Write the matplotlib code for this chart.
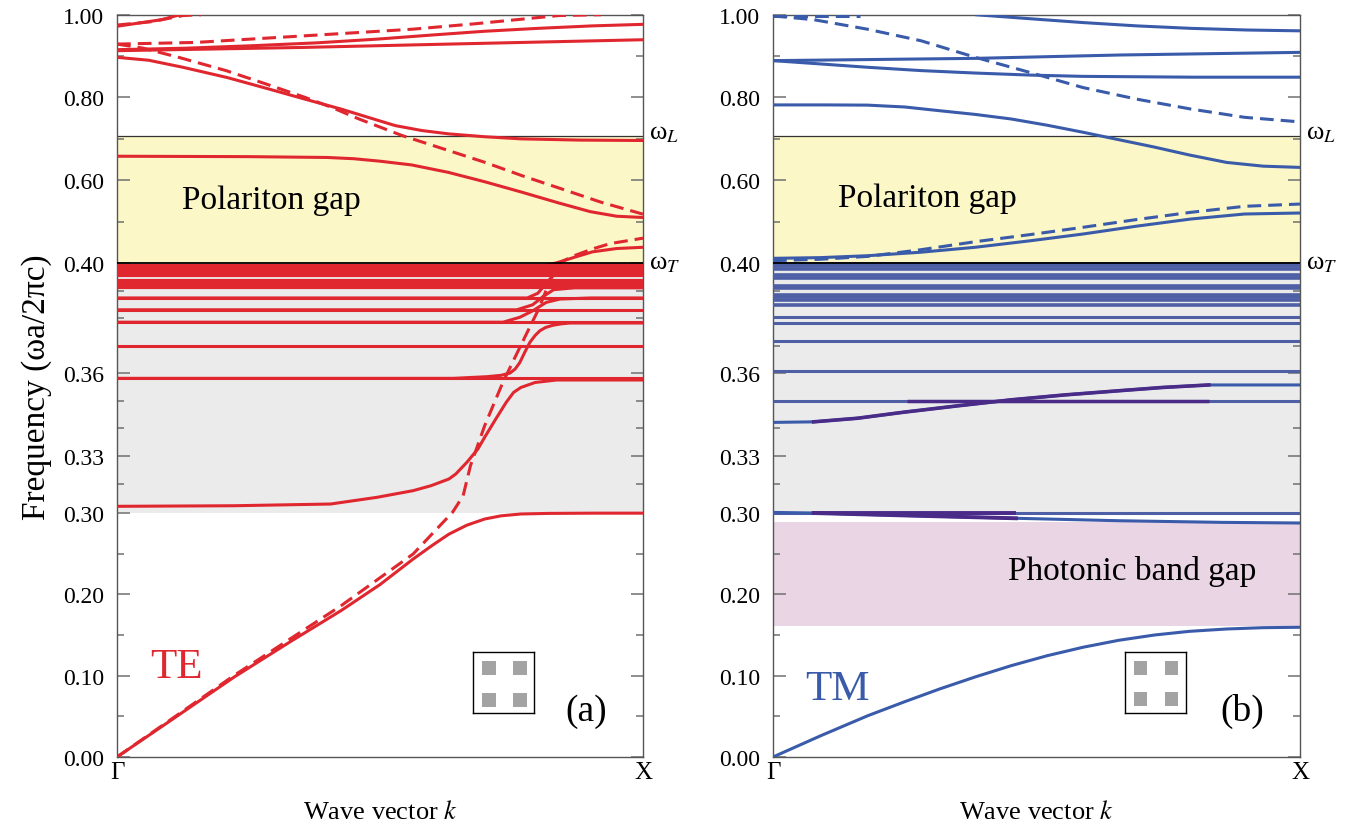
import numpy as np
import matplotlib.pyplot as plt
from matplotlib.patches import Rectangle
from matplotlib.ticker import NullFormatter

plt.rcParams['font.family'] = ['Liberation Serif', 'DejaVu Serif']
plt.rcParams['mathtext.fontset'] = 'stix'

RED = '#E0272F'
BLUE = '#3A5BAA'
BLUE_FLAT = '#4E5FA6'
PURPLE = '#4A2C88'
GRAY_BG = '#EBEBEB'
YELLOW = '#FCF7C6'
PINK = '#EAD5E5'

y_knots = [-1.0, 0.0, 0.30, 0.33, 0.40, 1.00, 2.0]
pos_knots = [-813.3, 0.0, 244.0, 301.3, 494.0, 742.3, 1156.0]

major_ticks = [0.0, 0.1, 0.2, 0.3, 0.33, 0.36, 0.40, 0.60, 0.80, 1.00]
minor_ticks = [0.05, 0.15, 0.25, 0.315, 0.34, 0.35, 0.37, 0.38, 0.39, 0.50, 0.70, 0.90]

omega_T = 0.40
omega_L = 0.707
pbg_lo, pbg_hi = 0.161, 0.289

# ---------------- (a) TE ----------------
te_low_k = [0, 0.1, 0.222, 0.33, 0.426, 0.50, 0.563, 0.60, 0.631, 0.665, 0.699, 0.73, 0.768, 0.82, 0.904, 1.0]
te_low_w = [0, 0.044, 0.098, 0.142, 0.180, 0.212, 0.2434, 0.2605, 0.274, 0.285, 0.2926, 0.2965, 0.2988, 0.2995, 0.2998, 0.2998]

te_b2_k = [0, 0.222, 0.406, 0.494, 0.563, 0.597, 0.631, 0.644, 0.665, 0.686, 0.699, 0.72, 0.74, 0.754, 0.768, 0.795, 0.836, 1.0]
te_b2_w = [0.3035, 0.3038, 0.3047, 0.3082, 0.3117, 0.3143, 0.3178, 0.3204, 0.3265, 0.3324, 0.3367, 0.3433, 0.3494, 0.353, 0.3548, 0.3566, 0.3575, 0.3575]

te_b3_k = [0, 0.64, 0.703, 0.73, 0.747, 0.757, 0.766, 0.775, 0.785, 0.795, 0.804, 0.815, 0.829, 0.845, 0.861, 1.0]
te_b3_w = [0.3581, 0.3581, 0.3587, 0.3592, 0.360, 0.3615, 0.3639, 0.3675, 0.3712, 0.3737, 0.3754, 0.3766, 0.3774, 0.3779, 0.3782, 0.3782]

te_b4_k = [0, 0.734, 0.766, 0.791, 0.816, 0.842, 0.90, 1.0]
te_b4_w = [0.3785, 0.3785, 0.3803, 0.3827, 0.3857, 0.3869, 0.3873, 0.3873]

te_b5_k = [0, 0.76, 0.79, 0.81, 0.83, 0.87, 1.0]
te_b5_w = [0.383, 0.383, 0.3848, 0.3878, 0.3903, 0.391, 0.391]

te_b6_k = [0, 0.78, 0.80, 0.82, 0.84, 0.86, 1.0]
te_b6_w = [0.3873, 0.3873, 0.389, 0.3935, 0.3975, 0.3993, 0.3993]

te_flat = [0.3581, 0.3700, 0.3785, 0.3830, 0.3873]
te_dense = [0.3912, 0.3924, 0.3936, 0.3955, 0.3966, 0.3977, 0.3988]

te_wt_k = [0.80, 0.836, 0.87, 0.904, 0.95, 1.0]
te_wt_w = [0.3985, 0.4005, 0.414, 0.427, 0.435, 0.438]

te_gap_k = [0, 0.25, 0.40, 0.45, 0.50, 0.56, 0.63, 0.70, 0.77, 0.84, 0.90, 0.95, 1.0]
te_gap_w = [0.658, 0.657, 0.655, 0.652, 0.646, 0.637, 0.619, 0.596, 0.571, 0.545, 0.524, 0.513, 0.510]

te_wl_k = [0, 0.06, 0.125, 0.21, 0.29, 0.36, 0.426, 0.48, 0.529, 0.58, 0.631, 0.70, 0.768, 0.88, 1.0]
te_wl_w = [0.897, 0.890, 0.873, 0.848, 0.820, 0.795, 0.772, 0.751, 0.732, 0.720, 0.712, 0.705, 0.700, 0.697, 0.696]

te_top1_k = [0, 0.13, 0.256, 0.38, 0.495, 0.60, 0.699, 0.80, 0.904, 1.0]
te_top1_w = [0.9155, 0.919, 0.925, 0.932, 0.941, 0.951, 0.960, 0.967, 0.973, 0.9767]
te_top2_k = [0, 0.357, 0.631, 1.0]
te_top2_w = [0.913, 0.921, 0.929, 0.9395]
te_top3_k = [0, 0.085, 0.114, 0.13]
te_top3_w = [0.972, 0.988, 0.998, 1.0]

# dashed (TE)
te_dpol_k = [0, 0.222, 0.426, 0.563, 0.638, 0.658, 0.672, 0.699, 0.7335, 0.7675, 0.8017, 0.8357, 0.87, 0.904, 0.938, 1.0]
te_dpol_w = [0, 0.100, 0.186, 0.2496, 0.3004, 0.309, 0.3248, 0.3409, 0.3566, 0.370, 0.3833, 0.3996, 0.418, 0.434, 0.447, 0.46]
te_ddown_k = [0, 0.05, 0.12, 0.207, 0.28, 0.358, 0.41, 0.46, 0.542, 0.62, 0.70, 0.77, 0.836, 0.92, 1.0]
te_ddown_w = [0.929, 0.919, 0.896, 0.865, 0.834, 0.800, 0.775, 0.748, 0.708, 0.676, 0.643, 0.611, 0.583, 0.547, 0.518]
te_dup_k = [0, 0.15, 0.357, 0.562, 0.68, 0.768, 0.84, 0.92]
te_dup_w = [0.929, 0.933, 0.949, 0.965, 0.978, 0.989, 0.998, 1.0]
te_dtl_k = [0, 0.065, 0.126, 0.16]
te_dtl_w = [0.975, 0.983, 0.998, 1.0]

# ---------------- (b) TM ----------------
tm_b1_k = [0, 0.09, 0.18, 0.25, 0.316, 0.384, 0.452, 0.52, 0.588, 0.656, 0.724, 0.79, 0.861, 0.93, 1.0]
tm_b1_w = [0, 0.026, 0.0508, 0.068, 0.0836, 0.0985, 0.1123, 0.1245, 0.1349, 0.1435, 0.150, 0.1545, 0.1574, 0.159, 0.1595]

tm_b2_k = [0, 0.077, 0.25, 0.461, 0.657, 0.85, 1.0]
tm_b2_w = [0.3003, 0.300, 0.297, 0.2935, 0.2905, 0.2885, 0.2877]
tm_b2_purple = (0.077, 0.461)

tm_rise_k = [0, 0.077, 0.16, 0.248, 0.35, 0.452, 0.555, 0.657, 0.74, 0.827, 1.0]
tm_rise_w = [0.3421, 0.3423, 0.3436, 0.3458, 0.3481, 0.3503, 0.3521, 0.3536, 0.3548, 0.3557, 0.3557]
tm_rise_purple = (0.077, 0.827)

tm_flat = [0.3000, 0.3500, 0.3609, 0.3718, 0.3782, 0.3803]
tm_flat_purple = [(0.3500, 0.254, 0.827)]
tm_dense = [0.3848, 0.3865, 0.3875, 0.3885, 0.3908, 0.3918, 0.3945, 0.3955, 0.3978, 0.3988, 0.3998]

tm_gap_k = [0, 0.09, 0.1797, 0.28, 0.384, 0.49, 0.588, 0.69, 0.793, 0.895, 1.0]
tm_gap_w = [0.4113, 0.413, 0.4176, 0.426, 0.438, 0.454, 0.470, 0.489, 0.5063, 0.5184, 0.5208]
tm_dgap_k = [0, 0.09, 0.1797, 0.28, 0.384, 0.49, 0.588, 0.69, 0.793, 0.895, 1.0]
tm_dgap_w = [0.4056, 0.409, 0.416, 0.432, 0.4515, 0.469, 0.4862, 0.505, 0.5225, 0.537, 0.5425]

tm_wl_k = [0, 0.10, 0.179, 0.25, 0.316, 0.384, 0.452, 0.52, 0.588, 0.656, 0.724, 0.79, 0.861, 0.93, 1.0]
tm_wl_w = [0.782, 0.782, 0.7815, 0.777, 0.768, 0.759, 0.748, 0.733, 0.716, 0.698, 0.680, 0.661, 0.643, 0.634, 0.631]
tm_mid1_k = [0, 0.09, 0.179, 0.28, 0.384, 0.49, 0.588, 0.8, 1.0]
tm_mid1_w = [0.889, 0.881, 0.873, 0.865, 0.859, 0.854, 0.851, 0.849, 0.849]
tm_mid2_k = [0, 0.384, 0.657, 1.0]
tm_mid2_w = [0.889, 0.8945, 0.9026, 0.909]
tm_top_k = [0.384, 0.48, 0.588, 0.69, 0.793, 0.90, 1.0]
tm_top_w = [1.0, 0.991, 0.981, 0.973, 0.967, 0.963, 0.961]

tm_ddown_k = [0, 0.077, 0.179, 0.281, 0.384, 0.486, 0.588, 0.690, 0.793, 0.895, 1.0]
tm_ddown_w = [0.997, 0.988, 0.965, 0.937, 0.897, 0.861, 0.824, 0.796, 0.772, 0.752, 0.741]
tm_dtop_k = [0, 0.166]
tm_dtop_w = [0.998, 0.998]


def fwd(v):
    return np.interp(v, y_knots, pos_knots)


def inv(p):
    return np.interp(p, pos_knots, y_knots)


DASH = (0, (4.5, 2.3))
LW = 2.2


def setup(ax):
    ax.set_xlim(0, 1)
    ax.set_yscale('function', functions=(fwd, inv))
    ax.set_ylim(0, 1)
    ax.set_yticks(major_ticks)
    ax.set_yticklabels(['%.2f' % t for t in major_ticks])
    ax.set_yticks(minor_ticks, minor=True)
    ax.yaxis.set_minor_formatter(NullFormatter())
    ax.tick_params(axis='y', which='both', direction='in', left=True, right=True,
                   color='#707070', width=1.1, labelsize=17, pad=9)
    ax.tick_params(axis='y', which='major', length=9)
    ax.tick_params(axis='y', which='minor', length=5)
    ax.set_xticks([0, 1])
    ax.set_xticklabels(['Γ', 'X'])
    ax.tick_params(axis='x', length=0, labelsize=18, pad=3)
    for s in ax.spines.values():
        s.set_color('#555555')
        s.set_linewidth(1.0)
    ax.set_xlabel('Wave vector $k$', fontsize=19, labelpad=12)
    # background regions
    ax.axhspan(0.30, omega_T, color=GRAY_BG, lw=0, zorder=0)
    ax.axhspan(omega_T, omega_L, color=YELLOW, lw=0, zorder=0)
    ax.axhline(omega_L, color='#333333', lw=0.9, zorder=1)
    ax.axhline(omega_T, color='black', lw=1.3, zorder=4)
    tr = ax.get_yaxis_transform()
    ax.text(1.012, omega_L + 0.006, 'ω$_L$', transform=tr, fontsize=19, va='center', ha='left')
    ax.text(1.012, omega_T + 0.001, 'ω$_T$', transform=tr, fontsize=19, va='center', ha='left')


def lattice_icon(fig, rect):
    ia = fig.add_axes(rect)
    ia.set_xlim(0, 1)
    ia.set_ylim(0, 1)
    ia.set_xticks([])
    ia.set_yticks([])
    for s in ia.spines.values():
        s.set_linewidth(1.0)
        s.set_color('black')
    for x0 in (0.15, 0.66):
        for y0 in (0.10, 0.62):
            ia.add_patch(Rectangle((x0, y0), 0.22, 0.23, color='#A3A3A3', lw=0))


fig = plt.figure(figsize=(13.51, 8.29), dpi=100)
W, H = 1351.0, 829.0
ax1 = fig.add_axes([117 / W, 1 - 758 / H, 526 / W, 742.3 / H])
ax2 = fig.add_axes([773 / W, 1 - 758 / H, 527 / W, 742.3 / H])
setup(ax1)
setup(ax2)
ax1.set_ylabel('Frequency (ωa/2πc)', fontsize=24, labelpad=8)

# ---- panel (a)
kw = dict(color=RED, lw=LW, zorder=3, solid_capstyle='butt')
ax1.hlines(te_flat, 0, 1, colors=RED, lw=LW, zorder=3)
ax1.hlines(te_dense, 0, 1, colors=RED, lw=3.0, zorder=3)
for k, w in [(te_low_k, te_low_w), (te_b2_k, te_b2_w), (te_b3_k, te_b3_w),
             (te_b4_k, te_b4_w), (te_b5_k, te_b5_w), (te_b6_k, te_b6_w),
             (te_wt_k, te_wt_w), (te_gap_k, te_gap_w), (te_wl_k, te_wl_w),
             (te_top1_k, te_top1_w), (te_top2_k, te_top2_w), (te_top3_k, te_top3_w)]:
    ax1.plot(k, w, **kw)
for k, w in [(te_dpol_k, te_dpol_w), (te_ddown_k, te_ddown_w),
             (te_dup_k, te_dup_w), (te_dtl_k, te_dtl_w)]:
    ax1.plot(k, w, ls=DASH, **kw)

ax1.text(0.124, 0.552, 'Polariton gap', fontsize=24, va='center', ha='left')
ax1.text(0.063, 0.111, 'TE', fontsize=31, color=RED, va='center', ha='left')
ax1.text(0.852, 0.057, '(a)', fontsize=27, va='center', ha='left')

# ---- panel (b)
ax2.axhspan(pbg_lo, pbg_hi, color=PINK, lw=0, zorder=0)
kb = dict(color=BLUE, lw=LW, zorder=3, solid_capstyle='butt')
ax2.hlines(tm_flat, 0, 1, colors=BLUE_FLAT, lw=LW, zorder=3)
ax2.hlines(tm_dense, 0, 1, colors=BLUE_FLAT, lw=2.6, zorder=3)
for lev, k0, k1 in tm_flat_purple:
    ax2.hlines(lev, k0, k1, colors=PURPLE, lw=LW + 0.3, zorder=3.5)
for k, w in [(tm_b1_k, tm_b1_w), (tm_b2_k, tm_b2_w), (tm_rise_k, tm_rise_w),
             (tm_gap_k, tm_gap_w), (tm_wl_k, tm_wl_w), (tm_mid1_k, tm_mid1_w),
             (tm_mid2_k, tm_mid2_w), (tm_top_k, tm_top_w)]:
    ax2.plot(k, w, **kb)
for k, w in [(tm_dgap_k, tm_dgap_w), (tm_ddown_k, tm_ddown_w), (tm_dtop_k, tm_dtop_w)]:
    ax2.plot(k, w, ls=DASH, **kb)

# purple pieces where the bands mix
rk = np.array(tm_rise_k)
sel = (rk >= tm_rise_purple[0]) & (rk <= tm_rise_purple[1])
ax2.plot(rk[sel], np.array(tm_rise_w)[sel], color=PURPLE, lw=LW + 0.4, zorder=3.6)
bk = np.array(tm_b2_k)
sel = (bk >= tm_b2_purple[0]) & (bk <= tm_b2_purple[1])
ax2.plot(bk[sel], np.array(tm_b2_w)[sel], color=PURPLE, lw=LW + 0.6, zorder=3.6)
ax2.hlines(0.3000, tm_b2_purple[0], tm_b2_purple[1], colors=PURPLE, lw=LW + 0.6, zorder=3.6)

ax2.text(0.123, 0.557, 'Polariton gap', fontsize=24, va='center', ha='left')
ax2.text(0.446, 0.229, 'Photonic band gap', fontsize=24, va='center', ha='left')
ax2.text(0.061, 0.084, 'TM', fontsize=31, color=BLUE, va='center', ha='left')
ax2.text(0.848, 0.057, '(b)', fontsize=27, va='center', ha='left')

lattice_icon(fig, [473 / W, 1 - 714 / H, 61 / W, 61 / H])
lattice_icon(fig, [1124.5 / W, 1 - 713.5 / H, 61 / W, 61 / H])

fig.savefig('out.png', dpi=100)
